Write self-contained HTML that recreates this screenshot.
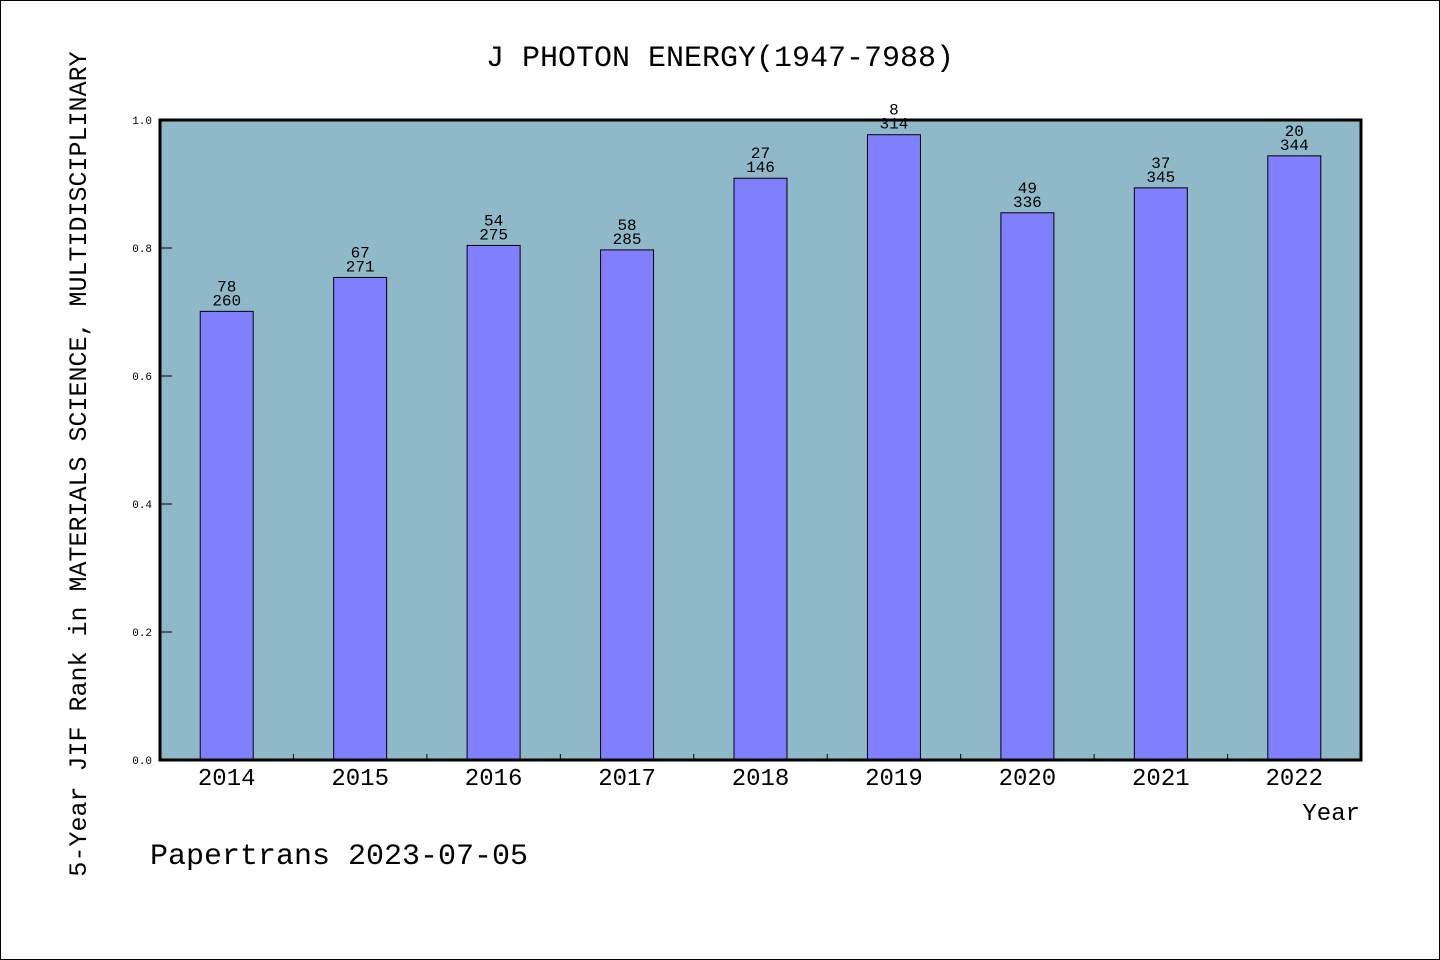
<!DOCTYPE html>
<html><head><meta charset="utf-8"><style>
body{margin:0;background:#fff}
svg{display:block}
text{font-family:"WenQuanYi Zen Hei","Liberation Mono",monospace;fill:#000}
</style></head><body>
<svg width="1440" height="960">
<rect x="0.5" y="0.5" width="1439" height="959" fill="#fff" stroke="#000"/>
<text x="720" y="66" text-anchor="middle" font-size="30">J PHOTON ENERGY(1947-7988)</text>
<g id="plot"></g>
<text x="1360" y="820" text-anchor="end" font-size="24">Year</text>
<text transform="translate(86,464) rotate(-90)" text-anchor="middle" font-size="25">5-Year JIF Rank in MATERIALS SCIENCE, MULTIDISCIPLINARY</text>
<text x="150" y="864" font-size="30">Papertrans 2023-07-05</text>
</svg>
<script>
const years=["2014","2015","2016","2017","2018","2019","2020","2021","2022"];
const values=[0.701,0.754,0.804,0.797,0.909,0.977,0.855,0.894,0.944];
const ranks=["78","67","54","58","27","8","49","37","20"];
const totals=["260","271","275","285","146","314","336","345","344"];
const yTicks=[0,0.2,0.4,0.6,0.8,1.0];
const NS="http://www.w3.org/2000/svg";
const X0=160,X1=1361,Y0=760,Y1=120;
const step=(X1-X0)/years.length;
const yy=v=>Y0-v*(Y0-Y1);
const g=document.getElementById('plot');
function mk(t,a){const e=document.createElementNS(NS,t);for(const k in a)e.setAttribute(k,a[k]);g.appendChild(e);return e;}
const bg=mk('rect',{x:X0,y:Y1,width:X1-X0,height:Y0-Y1,fill:'#8fb8c8'});


yTicks.forEach(t=>{
 const l=mk('line',{x1:X0,x2:X0+12,y1:yy(t),y2:yy(t),stroke:'#000','stroke-width':1});
 
 
 const tx=mk('text',{x:X0-8,y:yy(t)+4,'text-anchor':'end','font-size':11});
 tx.textContent=t.toFixed(1);
 
 
});
years.forEach((yr,i)=>{
 const cx=X0+step*(i+0.5),w=53;
 const b=mk('rect',{x:cx-w/2,y:yy(values[i]),width:w,height:Y0-yy(values[i]),fill:'#8080ff',stroke:'#000','stroke-width':1});
 
 
 const t1=mk('text',{x:cx,y:yy(values[i])-20,'text-anchor':'middle','font-size':16});
 t1.textContent=ranks[i];
 
 
 const t2=mk('text',{x:cx,y:yy(values[i])-6,'text-anchor':'middle','font-size':16});
 t2.textContent=totals[i];
 
 
 const xl=mk('text',{x:cx,y:785,'text-anchor':'middle','font-size':24});
 xl.textContent=yr;
 
 
 if(i>0){
  const tk=mk('line',{x1:X0+step*i,x2:X0+step*i,y1:Y0,y2:Y0-6,stroke:'#000','stroke-width':1});
  
  
 }
});
const bd=mk('rect',{x:X0,y:Y1,width:X1-X0,height:Y0-Y1,fill:'none',stroke:'#000','stroke-width':3});


</script>
</body></html>
